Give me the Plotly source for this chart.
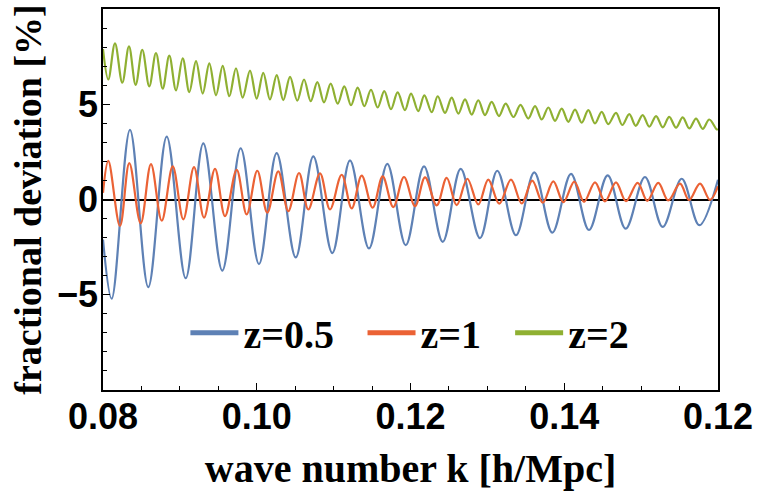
import plotly.graph_objects as go

# ---- data (k in h/Mpc, deviation in %) ----
k_z05 = [0.08000, 0.08113, 0.08351, 0.08589, 0.08829, 0.09076, 0.09305, 0.09552, 0.09791,
         0.10029, 0.10259, 0.10507, 0.10736, 0.10983, 0.11213, 0.11460, 0.11698, 0.11938,
         0.12176, 0.12419, 0.12653, 0.12904, 0.13129, 0.13372, 0.13610, 0.13845, 0.14088,
         0.14322, 0.14565, 0.14799, 0.15050, 0.15281, 0.15528, 0.15757, 0.16000]
dev_z05 = [-2.10, -5.21, 3.65, -4.60, 3.30, -4.13, 2.95, -3.73, 2.69,
           -3.39, 2.43, -3.04, 2.26, -2.81, 2.05, -2.57, 1.875, -2.40,
           1.74, -2.22, 1.61, -2.03, 1.51, -1.875, 1.42, -1.74, 1.35,
           -1.60, 1.27, -1.53, 1.18, -1.44, 1.09, -1.35, 1.04]

k_z1 = [0.08000, 0.08069, 0.08221, 0.08342, 0.08490, 0.08624, 0.08764, 0.08907, 0.09045,
        0.09184, 0.09314, 0.09457, 0.09587, 0.09739, 0.09869, 0.10007, 0.10137, 0.10280,
        0.10410, 0.10550, 0.10671, 0.10823, 0.10953, 0.11105, 0.11235, 0.11365, 0.11508,
        0.11638, 0.11776, 0.11915, 0.12059, 0.12189, 0.12341, 0.12471, 0.12601, 0.12739,
        0.12882, 0.13012, 0.13155, 0.13307, 0.13447, 0.13584, 0.13720, 0.13858, 0.13988,
        0.14131, 0.14257, 0.14400, 0.14530, 0.14673, 0.14803, 0.14955, 0.15080, 0.15223,
        0.15353, 0.15506, 0.15623, 0.15766, 0.15896, 0.16000]
dev_z1 = [0.35, 2.03, -1.39, 1.91, -1.25, 1.86, -1.11, 1.74, -1.04,
          1.70, -0.95, 1.61, -0.87, 1.56, -0.78, 1.51, -0.69, 1.48,
          -0.61, 1.39, -0.52, 1.37, -0.52, 1.30, -0.47, 1.25, -0.43,
          1.21, -0.40, 1.18, -0.35, 1.16, -0.31, 1.13, -0.30, 1.09,
          -0.26, 1.04, -0.22, 1.04, -0.21, 0.99, -0.17, 0.95, -0.14,
          0.94, -0.12, 0.90, -0.10, 0.90, -0.09, 0.87, -0.07, 0.87,
          -0.05, 0.83, -0.03, 0.83, -0.02, 0.69]

k_z2 = [0.08000, 0.08069, 0.08156, 0.08251, 0.08338, 0.08425, 0.08511, 0.08602, 0.08689,
        0.08777, 0.08862, 0.08950, 0.09037, 0.09123, 0.09210, 0.09297, 0.09383, 0.09470,
        0.09557, 0.09643, 0.09730, 0.09817, 0.09912, 0.09999, 0.10085, 0.10172, 0.10260,
        0.10345, 0.10433, 0.10527, 0.10615, 0.10702, 0.10788, 0.10875, 0.10962, 0.11053,
        0.11139, 0.11226, 0.11313, 0.11399, 0.11486, 0.11573, 0.11659, 0.11746, 0.11833,
        0.11928, 0.12007, 0.12101, 0.12180, 0.12276, 0.12354, 0.12449, 0.12536, 0.12622,
        0.12709, 0.12796, 0.12882, 0.12969, 0.13056, 0.13151, 0.13238, 0.13340, 0.13431,
        0.13532, 0.13620, 0.13707, 0.13793, 0.13880, 0.13967, 0.14053, 0.14140, 0.14227,
        0.14313, 0.14400, 0.14487, 0.14573, 0.14673, 0.14755, 0.14846, 0.14929, 0.15020,
        0.15106, 0.15194, 0.15281, 0.15366, 0.15454, 0.15541, 0.15627, 0.15714, 0.15801,
        0.15887, 0.15983, 0.16000]
dev_z2 = [7.90, 6.30, 8.20, 6.13, 8.04, 6.02, 7.86, 5.94, 7.69,
          5.82, 7.55, 5.73, 7.41, 5.64, 7.26, 5.56, 7.15, 5.47,
          7.01, 5.42, 6.89, 5.35, 6.77, 5.30, 6.65, 5.25, 6.53,
          5.22, 6.44, 5.19, 6.30, 5.16, 6.16, 5.10, 6.08, 5.03,
          5.94, 4.95, 5.87, 4.90, 5.76, 4.83, 5.69, 4.74, 5.62,
          4.69, 5.56, 4.64, 5.47, 4.58, 5.42, 4.55, 5.35, 4.51,
          5.26, 4.46, 5.21, 4.43, 5.12, 4.38, 5.03, 4.33, 4.97,
          4.25, 4.90, 4.20, 4.83, 4.13, 4.77, 4.08, 4.72, 4.03,
          4.69, 3.99, 4.60, 3.96, 4.55, 3.91, 4.48, 3.87, 4.43,
          3.82, 4.38, 3.79, 4.34, 3.77, 4.31, 3.73, 4.25, 3.71,
          4.20, 3.68, 3.70]

series_names = ["z=0.5", "z=1", "z=2"]
series_colors = ["#5E81B5", "#EB6235", "#8FB032"]

xtick_vals = [0.08, 0.10, 0.12, 0.14, 0.16]
xtick_text = ["0.08", "0.10", "0.12", "0.14", "0.12"]
ytick_vals = [-5, 0, 5]
ytick_text = ["\u22125", "0", "5"]

x_title = "wave number k [h/Mpc]"
y_title = "fractional deviation [%]"

# ---- figure ----
fig = go.Figure()
all_k = [k_z05, k_z1, k_z2]
all_dev = [dev_z05, dev_z1, dev_z2]
legend_ids = ["legend", "legend2", "legend3"]
for kk, dd, name, col, lg in zip(all_k, all_dev, series_names, series_colors, legend_ids):
    fig.add_trace(go.Scatter(x=kk, y=dd, mode="lines", name=name, showlegend=False,
                             line=dict(color=col, width=2.2, shape="spline", smoothing=1.0)))
    # legend entry (thicker sample line, as in the reference)
    fig.add_trace(go.Scatter(x=[None], y=[None], mode="lines", name=name, legend=lg,
                             line=dict(color=col, width=5)))

serif = dict(family="Liberation Serif", size=40, color="black", weight="bold")
serif_y = dict(family="Liberation Serif", size=38, color="black", weight="bold")
sans = dict(family="Liberation Sans", size=36, color="black", weight="bold")

leg_common = dict(y=0.15, xanchor="left", yanchor="middle", font=serif, itemwidth=48,
                  bgcolor="rgba(0,0,0,0)", borderwidth=0)
fig.update_layout(
    width=759, height=491,
    margin=dict(l=103, r=41, t=9, b=101, autoexpand=False),
    plot_bgcolor="white", paper_bgcolor="white",
    legend=dict(x=0.134, **leg_common),
    legend2=dict(x=0.422, **leg_common),
    legend3=dict(x=0.662, **leg_common),
)

fig.update_xaxes(
    range=[0.08, 0.16], tickvals=xtick_vals, ticktext=xtick_text, automargin=False,
    ticks="inside", ticklen=7, tickwidth=1.3, tickcolor="black",
    showline=True, linecolor="black", linewidth=1.6, mirror=True,
    showgrid=False, zeroline=False, tickfont=sans, ticklabelstandoff=-6,
    minor=dict(ticks="inside", ticklen=4, tickwidth=1.1, tickcolor="black",
               dtick=0.005, tick0=0.08, showgrid=False),
    title=dict(text=x_title, font=serif, standoff=20),
)
fig.update_yaxes(
    range=[-10, 10], tickvals=ytick_vals, ticktext=ytick_text, automargin=False,
    ticks="inside", ticklen=7, tickwidth=1.3, tickcolor="black",
    showline=True, linecolor="black", linewidth=1.6, mirror=True,
    showgrid=False, zeroline=True, zerolinecolor="black", zerolinewidth=1.6,
    tickfont=sans, ticklabelstandoff=-4,
    minor=dict(ticks="inside", ticklen=4, tickwidth=1.1, tickcolor="black",
               dtick=1, tick0=0, showgrid=False),
    title=dict(text=y_title, font=serif_y, standoff=4),
)

fig.write_html("out.html", config={"displayModeBar": False},
               post_script="document.body.style.margin='0';document.body.style.overflow='hidden';")
